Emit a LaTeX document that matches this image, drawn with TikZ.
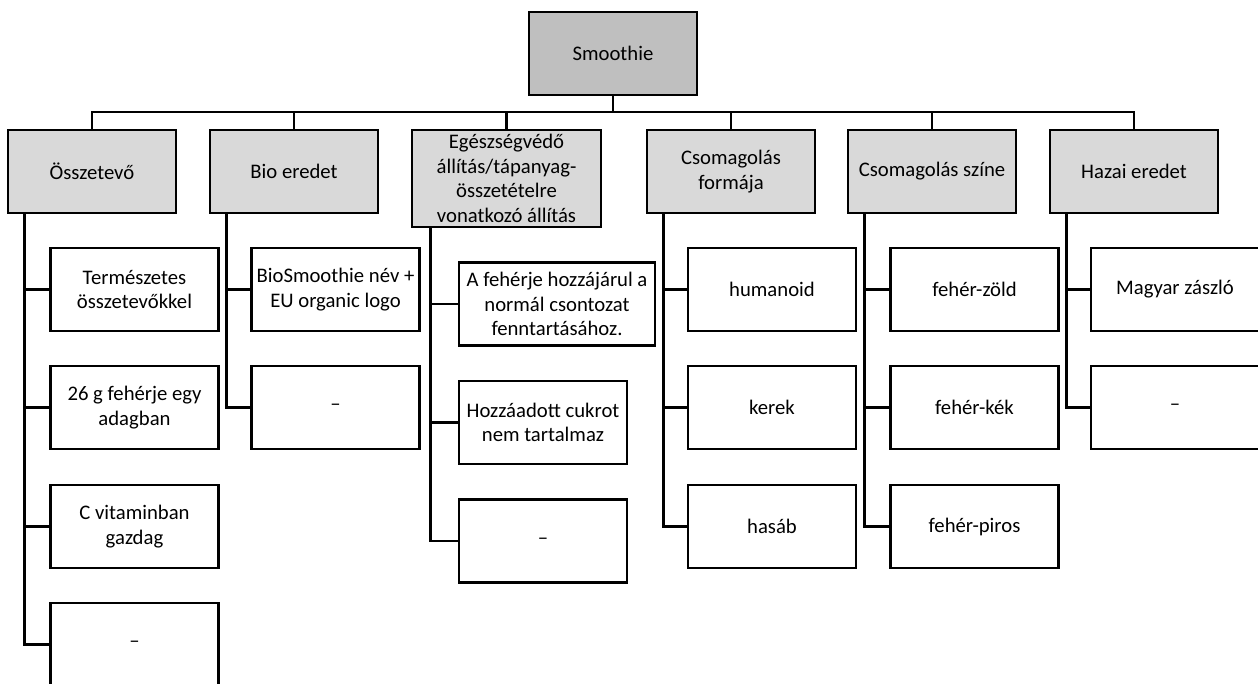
\documentclass[tikz,border=0pt]{standalone}
\usepackage{fontspec}
\setmainfont{Carlito}
\begin{document}
\begin{tikzpicture}[x=1pt,y=-1pt,
  base/.style={draw=black, line width=2.7pt, align=center, inner sep=0pt,
    minimum width=168pt, minimum height=83pt,
    font=\fontsize{20.7}{24.5}\selectfont},
  rootbox/.style={base, fill=black!25},
  catbox/.style={base, fill=black!15},
  leafbox/.style={base, fill=white},
  link/.style={draw=black, line width=2.7pt},
  toplink/.style={draw=black, line width=2.2pt}]
\useasboundingbox (0,0) rectangle (1258,684);

% root
\node[rootbox] (root) at (613,53.5) {Smoothie};

% categories
\node[catbox] (osz) at (92,171.5) {Összetevő};
\node[catbox] (bio) at (294,171.5) {Bio eredet};
\node[catbox, minimum width=189pt, minimum height=97pt] (ege) at (506.5,178.5)
  {Egészségvédő\\állítás/tápanyag-\\összetételre\\vonatkozó állítás};
\node[catbox] (csf) at (731,171.5) {Csomagolás\\formája};
\node[catbox] (csz) at (932,171.5) {Csomagolás színe};
\node[catbox] (haz) at (1134,171.5) {Hazai eredet};

% leaves: Összetevő
\node[leafbox] (osz1) at (134.5,289.5) {Természetes\\összetevőkkel};
\node[leafbox] (osz2) at (134.5,407.5) {26 g fehérje egy\\adagban};
\node[leafbox] (osz3) at (134.5,526.5) {C vitaminban\\gazdag};
\node[leafbox] (osz4) at (134.5,644.5) {–};

% leaves: Bio eredet
\node[leafbox] (bio1) at (335.5,289.5) {BioSmoothie név +\\EU organic logo};
\node[leafbox] (bio2) at (335.5,407.5) {–};

% leaves: Egészségvédő állítás
\node[leafbox, minimum width=196pt] (ege1) at (557,304)
  {A fehérje hozzájárul a\\normál csontozat\\fenntartásához.};
\node[leafbox] (ege2) at (543,422.5) {Hozzáadott cukrot\\nem tartalmaz};
\node[leafbox] (ege3) at (543,541) {–};

% leaves: Csomagolás formája
\node[leafbox] (csf1) at (772,289.5) {humanoid};
\node[leafbox] (csf2) at (772,407.5) {kerek};
\node[leafbox] (csf3) at (772,526.5) {hasáb};

% leaves: Csomagolás színe
\node[leafbox] (csz1) at (974.5,289.5) {fehér-zöld};
\node[leafbox] (csz2) at (974.5,407.5) {fehér-kék};
\node[leafbox] (csz3) at (974.5,526.5) {fehér-piros};

% leaves: Hazai eredet
\node[leafbox] (haz1) at (1175,289.5) {Magyar zászló};
\node[leafbox] (haz2) at (1175,407.5) {–};

% top-level bar
\coordinate (bar) at (0,112);
\draw[link] (root.south) -- (root.south |- bar);
\draw[toplink] (osz.north) |- (haz.north |- bar) -- (haz.north);
\foreach \n in {bio,ege,csf,csz}
  \draw[toplink] (\n.north) -- (\n.north |- bar);

% branch spines
\coordinate (oszL) at ([xshift=18pt]osz.south west);
\coordinate (bioL) at ([xshift=18pt]bio.south west);
\coordinate (egeL) at ([xshift=20pt]ege.south west);
\coordinate (csfL) at ([xshift=18pt]csf.south west);
\coordinate (cszL) at ([xshift=18pt]csz.south west);
\coordinate (hazL) at ([xshift=18pt]haz.south west);

\foreach \p/\kids in {osz/{osz1,osz2,osz3,osz4}, bio/{bio1,bio2},
    ege/{ege1,ege2,ege3}, csf/{csf1,csf2,csf3}, csz/{csz1,csz2,csz3},
    haz/{haz1,haz2}}
  \foreach \k in \kids
    \draw[link] (\p L) |- (\k.west);
\end{tikzpicture}
\end{document}
